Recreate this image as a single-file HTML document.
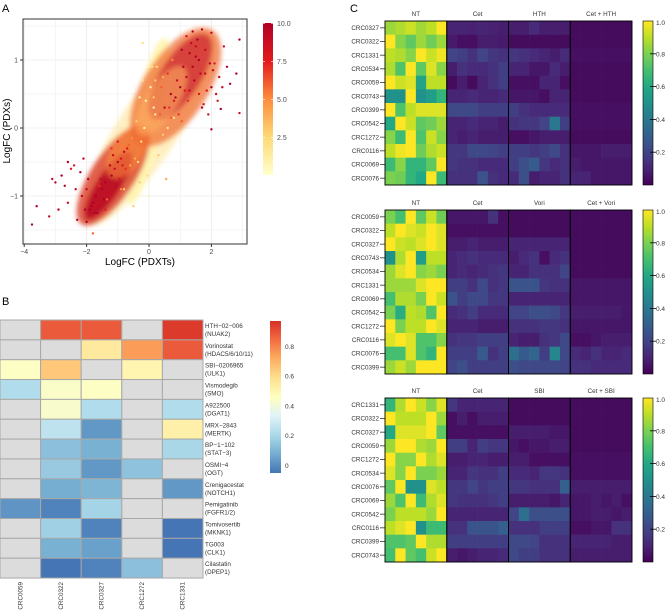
<!DOCTYPE html>
<html><head><meta charset="utf-8">
<style>
body{margin:0;background:#fff;}
svg{display:block;font-family:"Liberation Sans",sans-serif;}
</style></head>
<body>
<svg id="fig" width="667" height="611" viewBox="0 0 667 611">
<defs>
<linearGradient id="gA" x1="0" y1="1" x2="0" y2="0">
<stop offset="0" stop-color="#ffffcc"/><stop offset="0.25" stop-color="#fed976"/><stop offset="0.5" stop-color="#fd8d3c"/><stop offset="0.75" stop-color="#e31a1c"/><stop offset="1" stop-color="#b10026"/></linearGradient>
<linearGradient id="gB" x1="0" y1="1" x2="0" y2="0">
<stop offset="0" stop-color="#4575b4"/><stop offset="0.125" stop-color="#74add1"/><stop offset="0.25" stop-color="#abd9e9"/><stop offset="0.375" stop-color="#e0f3f8"/><stop offset="0.5" stop-color="#ffffbf"/><stop offset="0.625" stop-color="#fee090"/><stop offset="0.75" stop-color="#fdae61"/><stop offset="0.875" stop-color="#f46d43"/><stop offset="1" stop-color="#d73027"/></linearGradient>
<linearGradient id="gC" x1="0" y1="1" x2="0" y2="0">
<stop offset="0" stop-color="#440154"/><stop offset="0.1" stop-color="#482475"/><stop offset="0.2" stop-color="#414487"/><stop offset="0.3" stop-color="#355f8d"/><stop offset="0.4" stop-color="#2a788e"/><stop offset="0.5" stop-color="#21918c"/><stop offset="0.6" stop-color="#22a884"/><stop offset="0.7" stop-color="#44bf70"/><stop offset="0.8" stop-color="#7ad151"/><stop offset="0.9" stop-color="#bddf26"/><stop offset="1" stop-color="#fde725"/></linearGradient>
<filter id="blur"><feGaussianBlur stdDeviation="2.5"/></filter>
<clipPath id="clipA"><rect x="23" y="19" width="224" height="225"/></clipPath>
</defs>
<g id="panelA"></g>
<g id="panelB"></g>
<g id="panelC"></g>
</svg>
<script>
// ---------- Panel A data ----------
const aXTicks = [-4, -2, 0, 2];
const aYTicks = [-1, 0, 1];
const aLegendTicks = [2.5, 5.0, 7.5, 10.0];
// density regions: [cx, cy, halfLenPx, halfWidPx, color, opacity, angle]
const aClouds = [
 [0.0, 0.0, 115, 30, "#fee391", 0.55, -57],
 [-0.05, 0.1, 85, 15, "#fff4b0", 0.95, -78],
 [-1.15, -0.7, 58, 22, "#d7301f", 0.75, -57],
 [-1.3, -0.85, 40, 12, "#b5001f", 0.8, -57],
 [-0.7, -0.35, 30, 16, "#fd8d3c", 0.6, -57],
 [0.85, 0.6, 68, 32, "#f06a30", 0.7, -57],
 [1.0, 0.75, 50, 20, "#c8172a", 0.65, -57],
 [0.4, 0.4, 40, 16, "#fdae61", 0.6, -57]
];
const aPtX = [-1.8,-1.7,-1.6,-1.5,-1.4,-1.3,-1.2,-1.1,-1.0,-0.9,-0.8,-0.7,-1.6,-1.9,-2.0,-2.2,-2.4,-2.6,-2.8,-3.0,-3.1,-3.6,-3.75,-3.2,-2.9,-2.6,-2.3,-2.0,-1.8,-2.5,-2.1,-1.2,-1.0,-0.9,-1.4,-1.75,-2.15,-1.35,
 0.5,0.7,0.9,1.1,1.3,1.5,0.6,0.8,1.0,1.2,1.4,1.6,1.8,2.0,2.2,2.5,2.8,2.9,2.9,2.4,2.0,1.7,1.4,1.2,2.3,2.0,1.9,1.6,0.3,0.4,0.2,1.8,2.1,2.6,1.3,0.95,-0.2,0.3,0.1,-0.5,0.55,-0.3,1.05,1.75,2.15,
 -1.85,-1.55,-1.25,-0.95,-0.65,-1.45,-1.05,-0.75,-2.05,-1.65,-0.55,-0.45,-1.15,-0.85,-1.95,-2.35,-2.7,
 0.35,0.65,0.85,1.15,1.45,1.65,1.95,2.25,0.75,1.05,1.35,1.55,0.45,0.95,1.25,1.85,2.05,0.15,0.25,0.55,1.7,2.35,1.5,0.7,
 -0.1,0.05,-0.25,0.15,-0.35,0.0,-0.15,0.1,-0.4,0.2,-0.05,-0.2,0.3,-0.6,0.45,0.6,-0.8,-0.3,0.8,0.0];
const aPtY = [-1.1,-1.0,-1.15,-0.9,-0.8,-0.95,-0.7,-0.6,-0.5,-0.45,-0.35,-0.3,-0.85,-1.2,-0.9,-0.65,-0.55,-0.5,-0.7,-0.8,-0.75,-1.15,-1.42,-1.3,-1.2,-1.1,-1.35,-1.38,-1.55,-0.6,-0.45,-0.3,-0.2,-0.9,-1.2,-1.25,-1.0,-1.05,
 0.3,0.5,0.7,0.9,1.1,1.2,0.8,0.4,0.6,0.75,0.9,1.0,0.8,0.6,0.4,0.9,0.8,1.3,0.22,1.2,1.4,1.45,1.42,1.35,0.28,-0.02,0.2,0.5,0.1,0.6,0.7,1.15,0.95,0.65,0.55,0.2,1.25,1.05,0.9,-1.15,-0.75,-0.8,0.1,0.35,0.5,
 -1.15,-0.75,-0.55,-0.75,-0.25,-1.05,-0.85,-0.6,-1.2,-1.25,-0.15,-0.45,-0.4,-0.55,-0.75,-0.9,-0.85,
 0.2,0.3,0.45,0.55,0.7,0.8,0.95,0.75,1.0,1.15,1.25,1.3,0.75,0.35,0.4,0.55,0.85,0.45,0.9,1.05,0.3,0.6,1.05,0.15,
 0.4,0.6,-0.2,0.3,-0.5,0.9,0.0,-0.3,0.1,0.2,-0.7,0.7,-0.4,-0.55,-0.1,0.0,-0.9,0.45,0.15,-1.0];
const aPtV = [10,10,9,10,10,9,10,9,10,8,9,8,7,10,9,10,8,10,10,10,9,10,10,9,10,9,10,10,6,8,9,7,8,5,8,10,9,6,
 9,10,9,10,10,9,7,8,10,9,10,10,9,10,8,10,10,10,9,9,9,10,10,8,10,10,9,8,4,6,3,9,8,10,9,7,2,3,2,3,4,3,6,8,9,
 10,9,10,8,6,10,9,7,10,10,5,4,9,8,10,9,10,
 6,7,10,8,10,9,10,9,5,10,9,10,4,6,7,8,9,3,2,5,10,9,10,6,
 1,1,2,1,2,1,1,2,3,1,2,2,3,4,3,2,3,1,2,1];

// ---------- Panel B data ----------
const bCols = ["CRC0059","CRC0322","CRC0327","CRC1272","CRC1331"];
const bDrugs = ["HTH\u221202\u2212006","Vorinostat","SBI\u22120206965","Vismodegib","A922500","MRX\u22122843","BP\u22121\u2212102","OSMI\u22124","Crenigacestat","Pemigatinib","Tomivosertib","TG003","Cilastatin"];
const bTargets = ["(NUAK2)","(HDAC5/6/10/11)","(ULK1)","(SMO)","(DGAT1)","(MERTK)","(STAT\u22123)","(OGT)","(NOTCH1)","(FGFR1/2)","(MKNK1)","(CLK1)","(DPEP1)"];
const bValues = [
 [null,0.88,0.88,null,0.95],
 [null,null,0.55,0.75,0.88],
 [0.45,0.65,null,0.5,null],
 [0.22,0.44,0.45,null,null],
 [null,0.43,0.22,null,0.22],
 [null,0.25,0.03,null,0.52],
 [null,0.13,0.09,null,0.2],
 [null,0.16,0.03,0.14,null],
 [null,0.08,0.1,null,0.03],
 [0.02,-0.02,0.19,null,null],
 [null,0.18,-0.02,null,-0.05],
 [null,0.09,0.05,null,-0.05],
 [null,-0.05,-0.02,0.13,null]
];
const bLegendTicks = [0, 0.2, 0.4, 0.6, 0.8];

// ---------- Panel C data ----------
const cGroups1 = ["NT","Cet","HTH","Cet + HTH"];
const cGroups2 = ["NT","Cet","Vori","Cet + Vori"];
const cGroups3 = ["NT","Cet","SBI","Cet + SBI"];
const cRows1 = ["CRC0327","CRC0322","CRC1331","CRC0534","CRC0059","CRC0743","CRC0399","CRC0542","CRC1272","CRC0116","CRC0069","CRC0076"];
const cRows2 = ["CRC0059","CRC0322","CRC0327","CRC0743","CRC0534","CRC1331","CRC0069","CRC0542","CRC1272","CRC0116","CRC0076","CRC0399"];
const cRows3 = ["CRC1331","CRC0322","CRC0327","CRC0059","CRC1272","CRC0534","CRC0076","CRC0069","CRC0542","CRC0116","CRC0399","CRC0743"];
const cVals1 = [
 [85,88,92,86,90,100, 10,10,9,10,9,8, 8,8,12,8,8,8, 3,3,3,3,3,3],
 [100,82,75,85,78,85, 7,4,4,8,8,7, 3,3,3,3,3,3, 3,3,3,3,3,3],
 [90,88,82,100,92,98, 20,18,14,20,16,14, 16,14,12,10,8,12, 4,4,4,4,4,4],
 [88,72,100,75,95,82, 8,14,12,12,14,18, 10,10,6,6,12,8, 3,3,3,3,3,3],
 [100,92,95,58,90,90, 3,8,3,10,14,18, 4,4,4,10,10,4, 3,3,3,3,3,3],
 [50,50,100,50,55,65, 10,10,12,10,10,12, 6,6,6,4,10,10, 3,3,3,3,3,3],
 [100,72,90,95,95,95, 22,22,22,18,18,18, 18,14,12,12,12,12, 4,4,4,4,4,4],
 [60,100,92,75,78,85, 10,10,12,10,10,8, 14,16,16,20,40,18, 4,4,4,4,4,4],
 [82,68,100,72,92,82, 10,8,10,8,8,8, 4,4,6,8,8,8, 3,3,3,3,3,3],
 [90,98,100,78,88,92, 16,16,22,22,20,18, 18,18,16,18,22,14, 6,6,6,8,8,8],
 [68,82,65,65,75,100, 16,14,14,12,12,12, 18,24,28,16,12,14, 8,6,6,6,6,6],
 [80,78,65,60,100,68, 14,14,14,26,14,12, 12,24,8,10,10,14, 10,10,6,6,6,6]
];
const cVals2 = [
 [80,70,100,75,92,78, 6,6,6,6,14,4, 3,3,3,3,3,3, 3,3,3,3,3,3],
 [90,100,95,92,100,95, 4,4,4,4,4,4, 3,3,3,3,3,3, 3,3,3,3,3,3],
 [100,92,90,95,100,95, 8,8,10,8,8,8, 10,10,10,10,10,10, 3,3,3,3,3,3],
 [50,88,100,55,90,90, 10,12,14,12,12,12, 8,12,14,4,12,14, 3,3,3,3,3,3],
 [85,95,100,82,85,80, 10,12,10,12,14,16, 10,10,14,14,14,20, 3,3,3,3,3,3],
 [85,85,85,95,100,100, 18,18,14,22,14,16, 26,26,26,16,14,14, 6,6,6,6,6,6],
 [70,88,88,80,100,92, 26,18,22,22,16,16, 10,10,10,10,10,10, 6,6,6,6,6,6],
 [80,62,90,88,72,100, 12,14,18,12,12,12, 20,20,24,24,22,16, 8,8,8,8,8,6],
 [100,80,90,90,100,95, 10,10,10,8,8,8, 14,14,14,16,16,14, 6,6,6,6,6,6],
 [95,100,95,72,72,82, 14,16,16,18,18,18, 10,8,8,14,16,22, 4,4,6,8,8,8],
 [70,70,95,72,65,100, 18,18,18,28,14,18, 36,28,32,18,46,22, 12,10,14,10,10,12],
 [85,92,85,100,100,100, 20,24,18,18,18,18, 24,22,22,22,22,20, 14,14,12,12,12,12]
];
const cVals3 = [
 [65,88,100,92,82,95, 16,10,10,10,10,10, 3,3,3,3,3,3, 3,3,3,3,3,3],
 [100,90,90,90,100,85, 4,8,4,8,8,8, 3,3,3,3,3,3, 3,3,3,3,3,3],
 [60,95,95,95,100,75, 4,4,4,4,4,4, 8,8,8,8,6,6, 3,3,3,3,3,3],
 [85,100,100,88,85,100, 18,18,10,18,16,16, 6,4,6,6,8,8, 3,3,3,3,3,3],
 [100,82,82,100,88,95, 8,8,10,10,8,8, 8,8,4,4,4,4, 4,4,4,4,4,4],
 [95,82,100,80,80,85, 10,10,16,14,14,18, 12,12,10,16,16,14, 4,4,4,4,4,4],
 [75,100,50,50,95,90, 16,16,20,16,18,18, 16,16,14,14,14,30, 8,8,8,8,8,8],
 [85,72,100,68,88,95, 16,14,14,14,16,18, 8,8,8,8,6,10, 6,6,8,6,8,4],
 [80,90,90,90,85,100, 10,10,10,10,10,10, 20,36,24,24,24,24, 6,6,8,8,6,8],
 [90,95,100,50,68,68, 14,14,26,26,26,30, 14,14,14,18,18,18, 4,4,6,6,14,14],
 [72,72,75,100,88,88, 18,18,18,18,18,18, 22,22,20,14,14,14, 10,10,10,10,8,8],
 [70,100,75,70,92,100, 8,6,8,10,10,12, 22,18,18,14,14,14, 8,8,8,8,8,8]
];
const cLegendTicks = [0.2, 0.4, 0.6, 0.8, 1.0];

// ---------- helpers ----------
const NS = "http://www.w3.org/2000/svg";
function mk(tag, attrs, parent, txt){
  const e = document.createElementNS(NS, tag);
  for (const k in attrs) e.setAttribute(k, attrs[k]);
  if (txt !== undefined) e.textContent = txt;
  parent.appendChild(e); return e;
}
function hex(h){return [parseInt(h.slice(1,3),16),parseInt(h.slice(3,5),16),parseInt(h.slice(5,7),16)];}
function interp(stops, t){
  t = Math.max(0, Math.min(1, t));
  const n = stops.length - 1, p = t * n, i = Math.min(Math.floor(p), n - 1), f = p - i;
  const a = hex(stops[i]), b = hex(stops[i+1]);
  return "rgb(" + a.map((v,k)=>Math.round(v + (b[k]-v)*f)).join(",") + ")";
}
const ylorrd = ["#ffffcc","#fed976","#fd8d3c","#e31a1c","#b10026"];
const rdylbu = ["#4575b4","#74add1","#abd9e9","#e0f3f8","#ffffbf","#fee090","#fdae61","#f46d43","#d73027"];
const viridis = ["#440154","#482475","#414487","#355f8d","#2a788e","#21918c","#22a884","#44bf70","#7ad151","#bddf26","#fde725"];

// ---------- Panel A ----------
(function(){
  const g = document.getElementById("panelA");
  const X = v => 149 + v * 31.2, Y = v => 128 - v * 68;
  let t = mk("text",{x:2,y:12,"font-size":11,fill:"#000"},g,"A");
  
  
  const grid = mk("g",{},g);
  
  
  for (let v=-4; v<=3; v+=1){ mk("line",{x1:X(v),x2:X(v),y1:19,y2:244,stroke:"#ebebeb","stroke-width":v%2===0?0.8:0.5},grid); }
  for (let v=-1.5; v<=1.5; v+=0.5){ mk("line",{x1:23,x2:247,y1:Y(v),y2:Y(v),stroke:"#ebebeb","stroke-width":Number.isInteger(v)?0.8:0.5},grid); }
  const marks = mk("g",{"clip-path":"url(#clipA)"},g);
  const clouds = mk("g",{filter:"url(#blur)"},marks);
  
  
  aClouds.forEach(c=>{
    const e = mk("ellipse",{cx:X(c[0]),cy:Y(c[1]),rx:c[2],ry:c[3],fill:c[4],opacity:c[5],transform:"rotate("+c[6]+" "+X(c[0])+" "+Y(c[1])+")"},clouds);
    
    
  });
  for (let i=0;i<aPtX.length;i++){
    const p = mk("circle",{cx:X(aPtX[i]),cy:Y(aPtY[i]),r:1.2,fill:interp(ylorrd,aPtV[i]/10)},marks);
    
    
  }
  mk("rect",{x:23,y:19,width:224,height:225,fill:"none",stroke:"#333","stroke-width":1},g);
  aXTicks.forEach(v=>{
    mk("line",{x1:X(v),x2:X(v),y1:244,y2:247,stroke:"#333"},g);
    const l = mk("text",{x:X(v),y:254,"font-size":7,"text-anchor":"middle",fill:"#4d4d4d"},g,v<0?"\u2212"+(-v):String(v));
    
    
  });
  aYTicks.forEach(v=>{
    mk("line",{x1:20,x2:23,y1:Y(v),y2:Y(v),stroke:"#333"},g);
    const l = mk("text",{x:18,y:Y(v)+2.5,"font-size":7,"text-anchor":"end",fill:"#4d4d4d"},g,v<0?"\u2212"+(-v):String(v));
    
    
  });
  t = mk("text",{x:140,y:265,"font-size":10,"text-anchor":"middle",fill:"#000"},g,"LogFC (PDXTs)");
  
  
  t = mk("text",{x:10,y:131,"font-size":10,"text-anchor":"middle",fill:"#000",transform:"rotate(-90 10 131)"},g,"LogFC (PDXs)");
  
  
  const cb = mk("rect",{x:263,y:23,width:10,height:152,fill:"url(#gA)"},g);
  
  
  const LY = v => 175 - (v/10)*152 + 0.5;
  aLegendTicks.forEach(v=>{
    mk("line",{x1:263,x2:265,y1:LY(v),y2:LY(v),stroke:"#fff","stroke-width":0.6},g);
    mk("line",{x1:271,x2:273,y1:LY(v),y2:LY(v),stroke:"#fff","stroke-width":0.6},g);
    const l = mk("text",{x:277,y:LY(v)+2.5,"font-size":7,fill:"#4d4d4d"},g,v.toFixed(1));
    
    
  });
})();

// ---------- Panel B ----------
(function(){
  const g = document.getElementById("panelB");
  let t = mk("text",{x:2,y:305,"font-size":11,fill:"#000"},g,"B");
  
  
  const x0 = 0, y0 = 320, cw = 40.6, ch = 19.85;
  const vmin = -0.05, vmax = 0.97;
  bValues.forEach((row,r)=>{
    row.forEach((v,c)=>{
      const fill = v===null ? "#dcdcdc" : interp(rdylbu,(v-vmin)/(vmax-vmin));
      const cell = mk("rect",{x:x0+c*cw,y:y0+r*ch,width:cw,height:ch,fill:fill,stroke:"#a8a8a8","stroke-width":1},g);
      
      
    });
    const l1 = mk("text",{x:205,y:y0+r*ch+8,"font-size":6.3,fill:"#333"},g,bDrugs[r]);
    
    
    const l2 = mk("text",{x:205,y:y0+r*ch+16,"font-size":6.3,fill:"#333"},g,bTargets[r]);
    
    
  });
  bCols.forEach((c,i)=>{
    const cx = x0 + (i+0.5)*cw + 2, cy = 582;
    const l = mk("text",{x:cx,y:cy,"font-size":6.3,fill:"#333","text-anchor":"end",transform:"rotate(-90 "+cx+" "+cy+")"},g,c);
    
    
  });
  const cb = mk("rect",{x:270,y:321,width:11,height:152,fill:"url(#gB)"},g);
  
  
  const LY = v => 473 - (v - vmin)/(vmax - vmin)*152;
  bLegendTicks.forEach(v=>{
    const l = mk("text",{x:285,y:LY(v)+2.5,"font-size":6.5,fill:"#333"},g,v===0?"0":v.toFixed(1));
    
    
  });
})();

// ---------- Panel C ----------
(function(){
  const g = document.getElementById("panelC");
  let t = mk("text",{x:350,y:12,"font-size":11,fill:"#000"},g,"C");
  
  
  const panels = [[cGroups1,cRows1,cVals1,21],[cGroups2,cRows2,cVals2,210],[cGroups3,cRows3,cVals3,398]];
  const x0 = 385, W = 247, cw = W/24, H = 164;
  panels.forEach((p,pi)=>{
    const [groups, rows, vals, top] = p;
    const ch = H / rows.length;
    const pg = mk("g",{},g);
    
    
    vals.forEach((row,r)=>{
      row.forEach((v,c)=>{
        const cell = mk("rect",{x:x0+c*cw,y:top+r*ch,width:cw+0.3,height:ch+0.3,fill:interp(viridis,v/100)},pg);
        
        
      });
      const yy = top + (r+0.5)*ch;
      mk("line",{x1:380,x2:385,y1:yy,y2:yy,stroke:"#333","stroke-width":0.8},pg);
      const l = mk("text",{x:379,y:yy+2.2,"font-size":6.3,fill:"#333","text-anchor":"end"},pg,rows[r]);
      
      
    });
    groups.forEach((gname,gi)=>{
      const gx = x0 + gi*W/4;
      mk("rect",{x:gx,y:top,width:W/4,height:H,fill:"none",stroke:"#000","stroke-width":0.9},pg);
      const l = mk("text",{x:gx+W/8,y:top-5,"font-size":6.3,fill:"#333","text-anchor":"middle"},pg,gname);
      
      
    });
    const cb = mk("rect",{x:643,y:top,width:10,height:H,fill:"url(#gC)",stroke:"#000","stroke-width":0.6},pg);
    
    
    cLegendTicks.forEach(v=>{
      const yy = top + H - v*H + (v===1?1.5:0);
      if (v<1){ mk("line",{x1:650,x2:656,y1:yy,y2:yy,stroke:"#000","stroke-width":0.8},pg); }
      const l = mk("text",{x:656,y:yy+2.5,"font-size":6.5,fill:"#333"},pg,v.toFixed(1));
      
      
    });
  });
})();
</script>
</body></html>
